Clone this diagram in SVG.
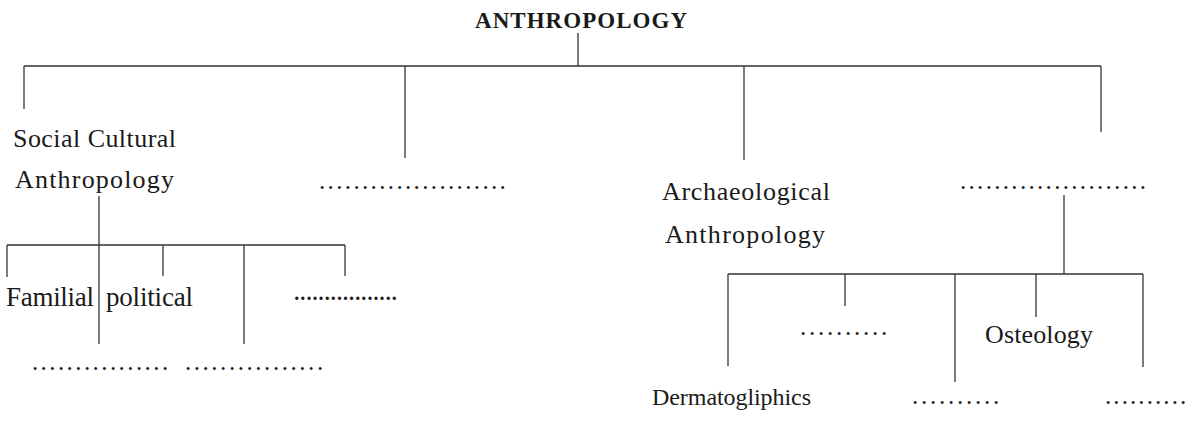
<svg xmlns="http://www.w3.org/2000/svg" width="1191" height="421" viewBox="0 0 1191 421">
<style>
.bg{fill:#ffffff}
.t{font-family:"Liberation Serif","Times New Roman",serif;font-size:26px;fill:#1a1a1a}
.b{font-weight:bold;font-size:23px}
.f{font-size:27px}
.d{font-family:"Liberation Serif","Times New Roman",serif;font-size:25px;fill:#1a1a1a;letter-spacing:2.35px}
.ds{font-family:"Liberation Serif","Times New Roman",serif;font-size:20px;font-weight:bold;fill:#1a1a1a;letter-spacing:1.1px}
.c line{stroke:#333;stroke-width:1.3;fill:none}
</style>
<rect class="bg" x="0" y="0" width="1191" height="421"/>
<g id="connectors" class="c">
<line x1="578" y1="33" x2="578" y2="66"/>
<line x1="24" y1="66" x2="1101" y2="66"/>
<line x1="24" y1="66" x2="24" y2="109"/>
<line x1="405" y1="66" x2="405" y2="158"/>
<line x1="744" y1="66" x2="744" y2="160"/>
<line x1="1101" y1="66" x2="1101" y2="132"/>
<line x1="99" y1="196" x2="99" y2="344"/>
<line x1="7" y1="245" x2="345" y2="245"/>
<line x1="7" y1="245" x2="7" y2="277"/>
<line x1="163" y1="245" x2="163" y2="276"/>
<line x1="244" y1="245" x2="244" y2="344"/>
<line x1="345" y1="245" x2="345" y2="276"/>
<line x1="1064" y1="195" x2="1064" y2="274"/>
<line x1="728" y1="274" x2="1143" y2="274"/>
<line x1="728" y1="274" x2="728" y2="366"/>
<line x1="845" y1="274" x2="845" y2="306"/>
<line x1="955" y1="274" x2="955" y2="382"/>
<line x1="1036" y1="274" x2="1036" y2="317"/>
<line x1="1143" y1="274" x2="1143" y2="367"/>
</g>
<g id="anthropology"><text class="t b" x="475" y="28" textLength="212" lengthAdjust="spacing">ANTHROPOLOGY</text></g>
<g id="social-cultural"><text class="t" x="13" y="147" textLength="163" lengthAdjust="spacing">Social Cultural</text><text class="t" x="15" y="188" textLength="159" lengthAdjust="spacing">Anthropology</text></g>
<g id="blank-2"><text class="d" x="319" y="188.5">......................</text></g>
<g id="archaeological"><text class="t" x="662" y="200" textLength="168" lengthAdjust="spacing">Archaeological</text><text class="t" x="665" y="243" textLength="160" lengthAdjust="spacing">Anthropology</text></g>
<g id="blank-4"><text class="d" x="960" y="189.3" style="letter-spacing:2.31px">......................</text></g>
<g id="familial"><text class="t f" x="6" y="306" textLength="88" lengthAdjust="spacing">Familial</text></g>
<g id="political"><text class="t f" x="106" y="306" textLength="87" lengthAdjust="spacing">political</text></g>
<g id="blank-s3"><text class="ds" x="294.2" y="300">.................</text></g>
<g id="blank-s4"><text class="d" x="31.9" y="369.5" style="letter-spacing:2.42px">................</text></g>
<g id="blank-s5"><text class="d" x="184.9" y="369.5" style="letter-spacing:2.55px">................</text></g>
<g id="dermatogliphics"><text class="t" x="652" y="405" style="font-size:24px" textLength="159" lengthAdjust="spacing">Dermatogliphics</text></g>
<g id="blank-a2"><text class="d" x="799.9" y="334.5" style="letter-spacing:2.75px">..........</text></g>
<g id="blank-a3"><text class="d" x="912" y="403.5" style="letter-spacing:2.75px">..........</text></g>
<g id="osteology"><text class="t" x="985" y="343" textLength="108" lengthAdjust="spacing">Osteology</text></g>
<g id="blank-a5"><text class="d" x="1105" y="403.5" style="letter-spacing:2.08px">..........</text></g>
</svg>
